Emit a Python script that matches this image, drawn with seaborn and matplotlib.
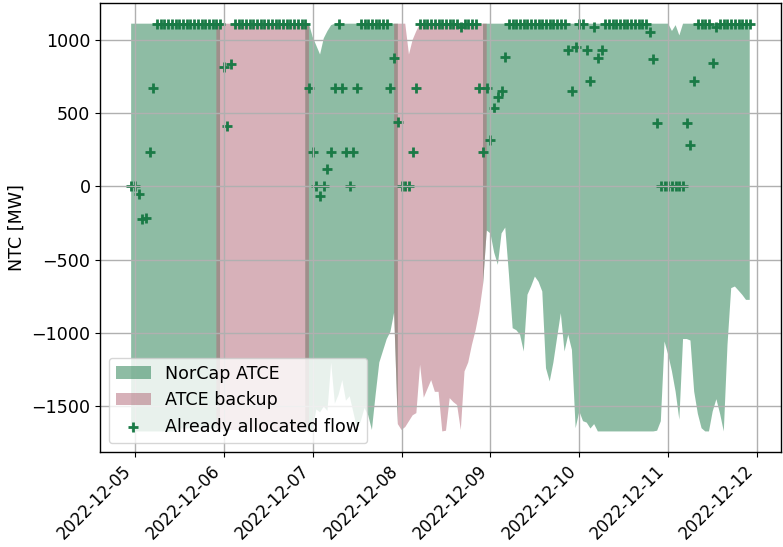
import numpy as np
import pandas as pd
import seaborn as sns
import matplotlib
matplotlib.use("Agg")
import matplotlib.pyplot as plt
import matplotlib.dates as mdates

plt.rcParams["font.size"] = 12.6
plt.rcParams["grid.linewidth"] = 1.0
plt.rcParams["axes.linewidth"] = 1.0

# Hourly timestamps (UTC), one market day = 23:00 -> 22:00
times = pd.date_range("2022-12-04 23:00", periods=168, freq="h")

# Capacity calculation method used per market day
day_method = ["NorCap", "backup", "NorCap", "backup", "NorCap", "NorCap", "NorCap"]

# Upper NTC bound [MW]
ntc_max = (
    [1110] * 24
    + [1110] * 24
    + [1110, 1020, 960, 900, 1010, 1060, 1100] + [1110] * 17
    + [1110, 1110, 1110, 900, 1000, 1060] + [1110] * 18
    + [1110] * 24
    + [1110] * 24
    + [1110, 1110, 1060, 1100, 1030] + [1110] * 19
)

# Lower NTC bound [MW]
ntc_min = (
    [-1670] * 13 + [-1650] * 11
    + [-1650] + [-1660] * 23
    + [-1670, -1660, -1520, -1540, -1500, -1530, -1200, -1480, -1420, -1320, -1460, -1430,
       -1540, -1650, -1600, -1510, -1560, -1660, -1420, -1200, -1120, -1040, -990, -860]
    + [-1620, -1660, -1640, -1600, -1560, -1545, -1215, -1440, -1380, -1320, -1400, -1400,
       -1670, -1665, -1443, -1470, -1490, -1660, -1261, -1200, -1080, -980, -852, -670]
    + [-300, -320, -450, -534, -320, -280, -600, -966, -980, -1011, -1125, -738,
       -680, -614, -650, -716, -1239, -1329, -1200, -1030, -864, -1125, -1011, -1114]
    + [-1648, -1534, -1600, -1610, -1650, -1620] + [-1670] * 16 + [-1665, -1600]
    + [-1057, -1148, -1260, -1400, -1590, -1040, -1040, -1050, -1398, -1550, -1648, -1670,
       -1670, -1534, -1450, -1550, -1670, -1080, -693, -682, -710, -739, -773, -773]
)

# Already allocated flow [MW]
allocated = (
    [0, 0, -50, -225, -215, 235, 670] + [1110] * 17
    + [1110, 818, 410, 833] + [1110] * 20
    + [670, 235, 0, -65, 0, 120, 235, 670, 1110, 670, 235, 0, 235, 670] + [1110] * 8 + [670, 875]
    + [443, 0, 0, 0, 235, 670] + [1110] * 11 + [1085] + [1110] * 4 + [670, 235]
    + [670, 315, 534, 613, 652, 886] + [1110] * 16 + [932, 648]
    + [948, 1110, 1110, 932, 716, 1085, 875, 932] + [1110] * 12 + [1050, 870, 432, 0]
    + [0] * 6 + [432, 280, 716] + [1110] * 4 + [840, 1090] + [1110] * 9
)

fill_green = "#1e7b4b"
fill_pink = "#b06474"
marker_green = "#1a7a46"

method = np.repeat(day_method, 24)
norcap = method == "NorCap"
backup = ~norcap
# extend each block by one hour so neighbouring blocks touch
green_mask = norcap | np.roll(norcap, 1) | np.roll(norcap, -1)
pink_mask = backup | np.roll(backup, 1) | np.roll(backup, -1)

fig, ax = plt.subplots(figsize=(7.83, 5.47), dpi=100)

ax.fill_between(times, ntc_min, ntc_max, where=green_mask, color=fill_green,
                alpha=0.5, linewidth=0, label="NorCap ATCE")
ax.fill_between(times, ntc_min, ntc_max, where=pink_mask, color=fill_pink,
                alpha=0.5, linewidth=0, label="ATCE backup")
sns.scatterplot(x=times, y=allocated, marker="+", color=marker_green, s=50,
                linewidth=2, label="Already allocated flow", ax=ax)

ax.xaxis.set_major_locator(mdates.DayLocator())
ax.xaxis.set_major_formatter(mdates.DateFormatter("%Y-%m-%d"))
plt.setp(ax.get_xticklabels(), rotation=45, ha="right", fontsize=12)
ax.set_xlabel("")
ax.set_ylabel("NTC [MW]")
ax.grid(True)
ax.legend(loc="lower left", fontsize=12.6)

fig.subplots_adjust(left=0.128, right=0.997, top=0.994, bottom=0.174)
fig.savefig("out.png", dpi=100)
